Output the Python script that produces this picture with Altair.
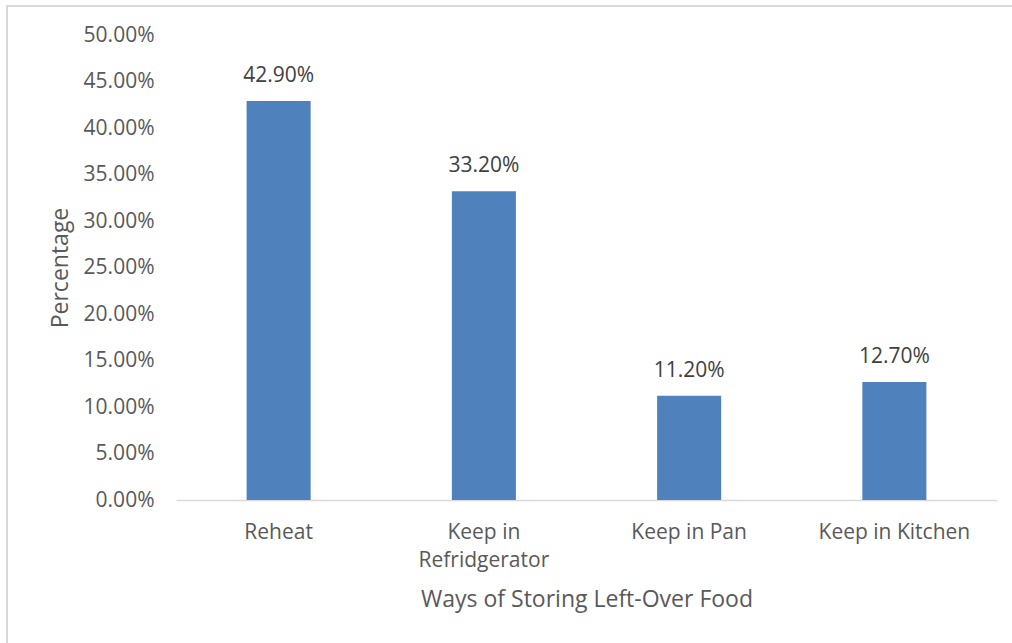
import altair as alt
import pandas as pd

categories = ["Reheat", "Keep in Refridgerator", "Keep in Pan", "Keep in Kitchen"]
values = [42.90, 33.20, 11.20, 12.70]
y_ticks = [0, 5, 10, 15, 20, 25, 30, 35, 40, 45, 50]

df = pd.DataFrame({"cat": categories, "val": values})
df["lbl"] = [f"{v:.2f}%" for v in values]

FONT = "Open Sans"
AX = "#595959"

x_enc = alt.X(
    "cat:N",
    sort=categories,
    scale=alt.Scale(paddingInner=0.688, paddingOuter=0.344),
    axis=alt.Axis(
        title="Ways of Storing Left-Over Food",
        labelAngle=0,
        labelExpr="datum.value == 'Keep in Refridgerator' ? ['Keep in', 'Refridgerator'] : datum.value",
        labelLineHeight=28,
        labelBaseline="top",
        labelPadding=21,
        ticks=False,
        domainColor="#d9d9d9",
        domainWidth=1.5,
        titlePadding=18,
    ),
)
y_enc = alt.Y(
    "val:Q",
    scale=alt.Scale(domain=[0, 50], nice=False),
    axis=alt.Axis(
        title="Percentage",
        values=y_ticks,
        labelExpr="format(datum.value, '.2f') + '%'",
        grid=False,
        domain=False,
        ticks=False,
        labelPadding=22,
        titlePadding=11,
    ),
)

border = alt.Chart(df).mark_rect(
    fill=None, stroke="#d9d9d9", strokeWidth=1.5, clip=False
).encode(
    x=alt.value(-169), x2=alt.value(850), y=alt.value(-29), y2=alt.value(620)
)

bars = alt.Chart(df).mark_bar(color="#4f81bd").encode(x=x_enc, y=y_enc)
labels = alt.Chart(df).mark_text(
    baseline="middle", dy=-25, font=FONT, fontSize=21, color="#404040"
).encode(x=alt.X("cat:N", sort=categories), y="val:Q", text="lbl:N")

chart = alt.layer(border, bars, labels).properties(
    width=821,
    height=465,
    autosize=alt.AutoSizeParams(type="none"),
    padding={"left": 176, "top": 35, "right": 15, "bottom": 143},
).configure_view(stroke=None).configure_axis(
    labelFont=FONT,
    titleFont=FONT,
    labelFontSize=21,
    titleFontSize=23,
    labelColor=AX,
    titleColor=AX,
    titleFontWeight="normal",
)

chart.save("out.html", embed_options={"renderer": "svg", "actions": False})
